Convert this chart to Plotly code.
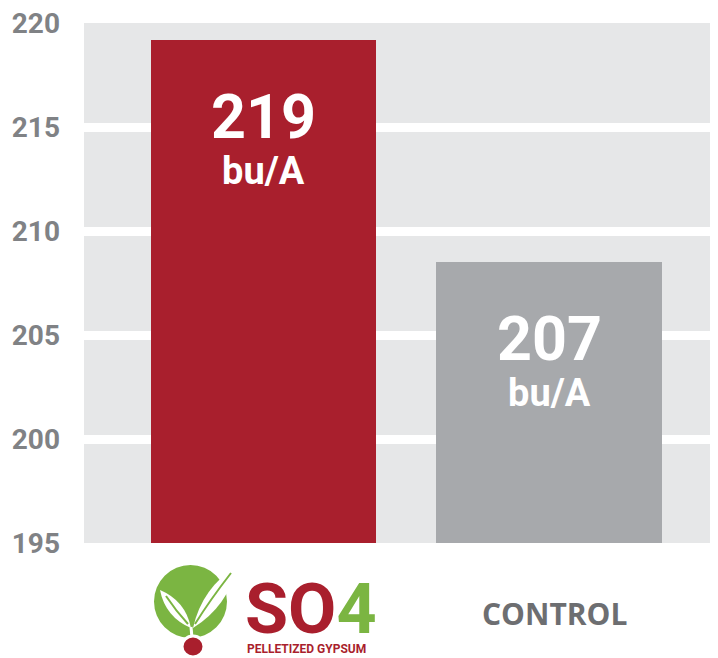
import plotly.graph_objects as go

# ---- data ----
categories = ["SO4", "CONTROL"]
bar_values = [219.2, 208.5]          # drawn bar heights
bar_labels = ["219", "207"]          # printed yields
unit_label = "bu/A"
y_ticks = [195, 200, 205, 210, 215, 220]
grid_ticks = [200, 205, 210, 215]

RED = "#a91f2d"
GREY_BAR = "#a7a9ac"
BG = "#e6e7e8"
TICK_GREY = "#808285"
LABEL_GREY = "#6d6e71"
GREEN = "#7bb542"

OFF = 8                      # page body margin
W, H = 718 - OFF, 658 - OFF
# plot area in screen pixels
L, R, T, B = 84, 718, 23, 543


def px(x):
    return (x - L) / (R - L)


def py(y):
    return (B - y) / (B - T)


def path(points_cmds):
    out = []
    for cmd, pts in points_cmds:
        coords = " ".join(f"{px(x):.5f},{py(y):.5f}" for x, y in pts)
        out.append(f"{cmd} {coords}")
    return " ".join(out) + " Z"


def leaf(base, tip, w):
    bx, by = base
    tx, ty = tip
    mx, my = (bx + tx) / 2, (by + ty) / 2
    dx, dy = tx - bx, ty - by
    ln = (dx * dx + dy * dy) ** 0.5
    nx, ny = -dy / ln, dx / ln
    c1 = (mx + nx * w, my + ny * w)
    c2 = (mx - nx * w, my - ny * w)
    return path([("M", [base]), ("Q", [c1, tip]), ("Q", [c2, base])])


fig = go.Figure()
fig.add_trace(go.Bar(
    x=[0, 1], y=bar_values, base=0,
    marker=dict(color=[RED, GREY_BAR], line=dict(width=0)),
    width=0.79, hoverinfo="skip",
))

# invisible trace to host the grid axis
fig.add_trace(go.Scatter(x=[0], y=[200], yaxis="y2", mode="markers",
                         marker=dict(opacity=0), hoverinfo="skip", showlegend=False))

NUM_FONT = "Roboto, sans-serif"
for i, (v, lab) in enumerate(zip(bar_values, bar_labels)):
    fig.add_annotation(x=i, y=v, xref="x", yref="y", text=f"<b>{lab}</b>",
                       showarrow=False, yanchor="middle", yshift=-77,
                       font=dict(family=NUM_FONT, size=61, color="white"))
    fig.add_annotation(x=i, y=v, xref="x", yref="y", text=f"<b>{unit_label}</b>",
                       showarrow=False, yanchor="middle", yshift=-131,
                       font=dict(family=NUM_FONT, size=38, color="white"))

# category label: CONTROL
fig.add_annotation(x=1, y=py(613), xref="x", yref="paper", text=f"<b>{categories[1]}</b>",
                   showarrow=False, yanchor="middle", xshift=5,
                   font=dict(family="Open Sans, sans-serif", size=30, color=LABEL_GREY))

# category label: SO4 logo (text)
fig.add_annotation(x=px(243), y=py(609), xref="paper", yref="paper",
                   text=f"<b><span style='color:{RED}'>SO</span><span style='color:{GREEN}'>4</span></b>",
                   showarrow=False, xanchor="left", yanchor="middle",
                   font=dict(family=NUM_FONT, size=70, color=RED))
fig.add_annotation(x=px(306), y=py(649), xref="paper", yref="paper",
                   text="<b>PELLETIZED GYPSUM</b>",
                   showarrow=False, xanchor="center", yanchor="middle",
                   font=dict(family="Roboto, sans-serif", size=12, color=RED))

shapes = []
# green circle
shapes.append(dict(type="circle", xref="paper", yref="paper",
                   x0=px(154), x1=px(227), y0=py(638), y1=py(565),
                   fillcolor=GREEN, line=dict(width=0), layer="above"))
# leaves
shapes.append(dict(type="path", xref="paper", yref="paper",
                   path=leaf((191, 628), (160, 590), 13),
                   fillcolor="white", line=dict(width=0), layer="above"))
shapes.append(dict(type="path", xref="paper", yref="paper",
                   path=leaf((193, 628), (237, 566), 16),
                   fillcolor="white", line=dict(width=0), layer="above"))
# veins
shapes.append(dict(type="path", xref="paper", yref="paper",
                   path=f"M {px(188):.5f},{py(624):.5f} Q {px(176):.5f},{py(611):.5f} {px(166):.5f},{py(596):.5f}",
                   line=dict(color=GREEN, width=2), layer="above"))
shapes.append(dict(type="path", xref="paper", yref="paper",
                   path=f"M {px(195):.5f},{py(624):.5f} Q {px(210):.5f},{py(600):.5f} {px(231):.5f},{py(573):.5f}",
                   line=dict(color=GREEN, width=2), layer="above"))
# stem
shapes.append(dict(type="path", xref="paper", yref="paper",
                   path=f"M {px(191):.5f},{py(627):.5f} L {px(192):.5f},{py(638):.5f}",
                   line=dict(color="white", width=3), layer="above"))
# red dot
shapes.append(dict(type="circle", xref="paper", yref="paper",
                   x0=px(182), x1=px(204), y0=py(657), y1=py(636),
                   fillcolor=RED, line=dict(color="white", width=3), layer="above"))

fig.update_layout(
    width=W, height=H,
    margin=dict(l=L - OFF, r=(718 - R), t=T - OFF, b=(658 - B), pad=0),
    paper_bgcolor="white", plot_bgcolor=BG,
    showlegend=False, bargap=0,
    shapes=shapes,
    xaxis=dict(range=[-0.629, 1.592], showticklabels=False, showgrid=False,
               zeroline=False, showline=False, fixedrange=True),
    yaxis=dict(range=[195, 220], tickvals=y_ticks, ticktext=[str(t) for t in y_ticks],
               showgrid=False, zeroline=False, showline=False,
               ticks="", ticklabelstandoff=23, ticklabeloverflow="allow",
               tickfont=dict(family="Roboto, sans-serif", size=28, color=TICK_GREY,
                             weight="bold")),
    yaxis2=dict(range=[195, 220], overlaying="y", tickvals=grid_ticks,
                showticklabels=False, showgrid=True, gridcolor="white", gridwidth=9,
                zeroline=False, showline=False, layer="below traces"),
)

fig.write_html("out.html")
